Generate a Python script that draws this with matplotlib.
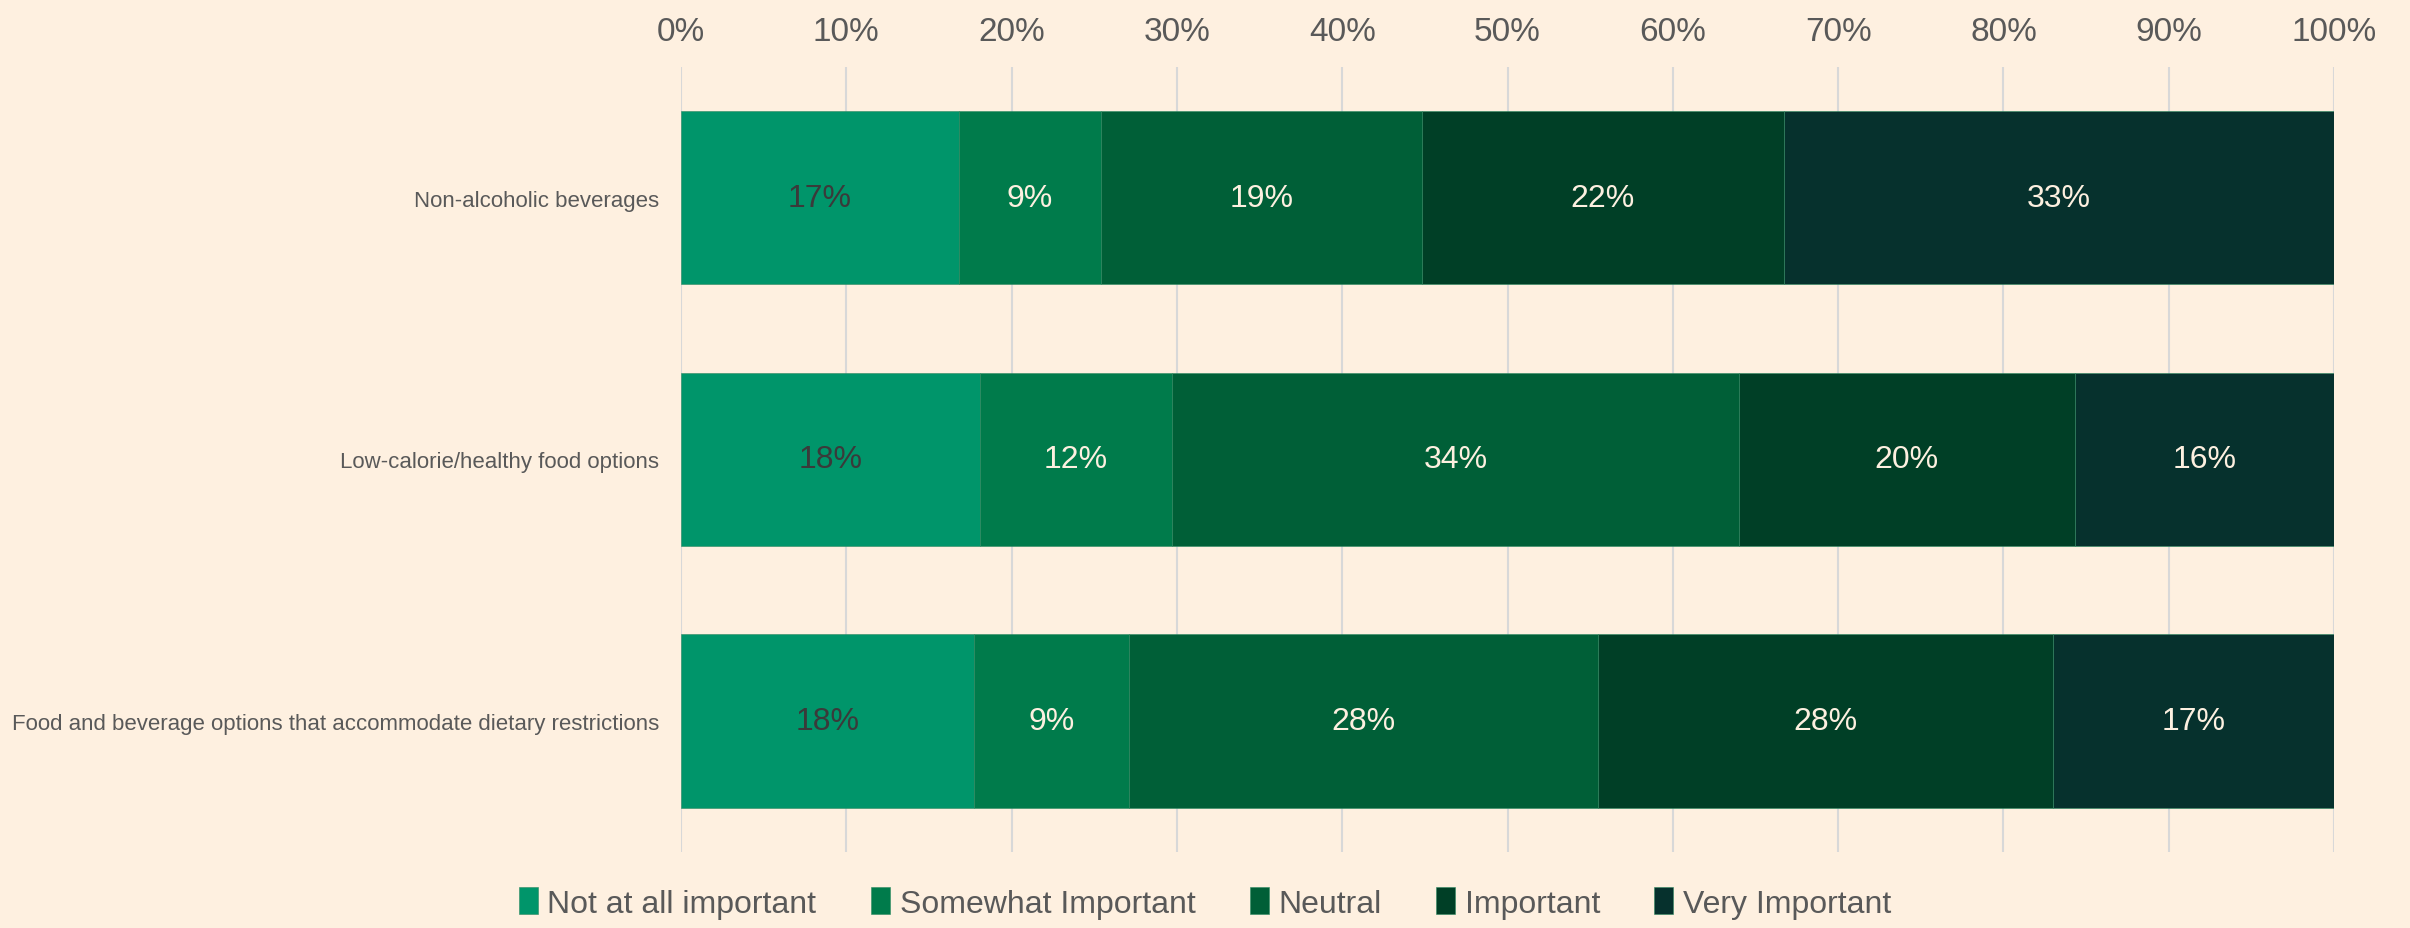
import matplotlib
matplotlib.use("Agg")
import matplotlib.pyplot as plt
import numpy as np

plt.rcParams['font.family'] = ['Liberation Sans', 'DejaVu Sans']

bg = "#fef0e0"
grid_col = "#d8d8d8"
txt_col = "#595959"

categories = [
    "Non-alcoholic beverages",
    "Low-calorie/healthy food options",
    "Food and beverage options that accommodate dietary restrictions",
]
series = ["Not at all important", "Somewhat Important", "Neutral", "Important", "Very Important"]
colors = ["#00956a", "#007b4b", "#005f37", "#003f26", "#06312d"]

# segment widths (percent)
values = [
    [16.8, 8.6, 19.4, 21.9, 33.3],
    [18.1, 11.6, 34.3, 20.3, 15.7],
    [17.7, 9.4, 28.4, 27.5, 17.0],
]
labels = [
    ["17%", "9%", "19%", "22%", "33%"],
    ["18%", "12%", "34%", "20%", "16%"],
    ["18%", "9%", "28%", "28%", "17%"],
]

fig = plt.figure(figsize=(24.1, 9.29), dpi=100, facecolor=bg)
ax = fig.add_axes([0.2826, 0.082, 0.6859, 0.845])
ax.set_facecolor(bg)

vals = np.array(values)
ypos = np.arange(len(categories))
left = np.zeros(len(categories))
for j, name in enumerate(series):
    ax.barh(ypos, vals[:, j], left=left, height=0.663, color=colors[j],
            label=name, zorder=2, edgecolor="#2f8a62", linewidth=0.4)
    for i in range(len(categories)):
        c = "#3a3a3a" if j == 0 else "#fdf0e0"
        ax.text(left[i] + vals[i, j] / 2, ypos[i], labels[i][j], ha="center", va="center",
                fontsize=23, color=c, zorder=3)
    left += vals[:, j]

ax.set_xlim(0, 100)
ax.set_ylim(2.5, -0.5)
ax.set_xticks(np.arange(0, 101, 10))
ax.set_xticklabels([f"{t}%" for t in range(0, 101, 10)])
ax.xaxis.tick_top()
ax.tick_params(axis="x", length=0, pad=14, labelsize=24, labelcolor=txt_col)
ax.set_yticks(ypos)
ax.set_yticklabels(categories)
ax.tick_params(axis="y", length=0, pad=16, labelsize=16, labelcolor=txt_col)
ax.grid(axis="x", color=grid_col, linewidth=1.5, zorder=0)
ax.set_axisbelow(True)
for s in ax.spines.values():
    s.set_visible(False)

fig.legend(loc="center", bbox_to_anchor=(0.5, 0.027), ncol=5, frameon=False,
           fontsize=23, handlelength=0.6, handleheight=0.9, handletextpad=0.3,
           columnspacing=1.7, labelcolor=txt_col)

fig.savefig("out.png", dpi=100, facecolor=bg)
